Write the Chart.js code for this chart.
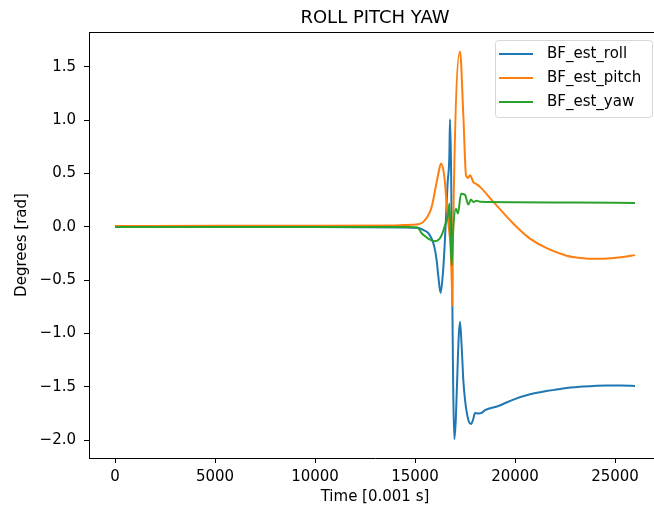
<!DOCTYPE html>
<html>
<head>
<meta charset="utf-8">
<script src="https://cdn.jsdelivr.net/npm/chart.js@4.4.0/dist/chart.umd.min.js"></script>
<style>
  html, body { margin: 0; padding: 0; background: #fff; overflow: hidden; }
  #wrap { width: 654px; height: 508px; overflow: hidden; }
</style>
</head>
<body>
<div id="wrap"><canvas id="chart" width="680" height="508"></canvas></div>
<script>
// Estimated attitude (body frame), time in ms
const rollTime = [0, 5000, 10000, 14500, 15170, 15420, 15670, 15830, 15970, 16080, 16170, 16280, 16380, 16470, 16550, 16630, 16717, 16750, 16965, 17250, 17333, 17417, 17500, 17580, 17700, 17800, 17917, 18000, 18170, 18330, 18500, 19170, 19920, 20750, 21580, 22400, 23250, 24580, 25300, 26000];
const rollValues = [0.005, 0.003, 0.0, -0.005, -0.01, -0.03, -0.06, -0.11, -0.19, -0.31, -0.47, -0.62, -0.47, -0.22, 0.09, 0.41, 0.66, 1.01, -1.99, -0.89, -1.12, -1.44, -1.62, -1.73, -1.83, -1.85, -1.80, -1.745, -1.75, -1.745, -1.72, -1.68, -1.62, -1.57, -1.54, -1.515, -1.50, -1.487, -1.488, -1.493];

const pitchTime = [0, 5000, 10000, 14000, 14800, 15170, 15420, 15750, 15870, 16000, 16170, 16300, 16420, 16500, 16580, 16670, 16780, 16850, 16867, 16900, 17250, 17420, 17550, 17650, 17750, 17920, 18080, 18250, 18920, 19920, 20750, 21580, 22580, 23300, 24000, 24800, 25400, 26000];
const pitchValues = [0.008, 0.01, 0.01, 0.012, 0.02, 0.025, 0.047, 0.14, 0.215, 0.34, 0.5, 0.594, 0.53, 0.41, 0.22, 0.03, -0.2, -0.6, -0.74, -0.12, 1.645, 1.03, 0.485, 0.46, 0.485, 0.42, 0.40, 0.375, 0.234, 0.03, -0.11, -0.20, -0.27, -0.292, -0.30, -0.295, -0.283, -0.265];

const yawTime = [0, 5000, 10000, 14500, 15130, 15330, 15500, 15750, 16000, 16200, 16370, 16500, 16670, 16720, 16780, 16833, 16900, 17050, 17150, 17300, 17500, 17667, 17800, 17917, 18080, 18300, 20000, 23000, 26000];
const yawValues = [0.0, 0.0, 0.0, 0.0, -0.005, -0.06, -0.087, -0.12, -0.134, -0.118, -0.06, 0.016, 0.125, 0.22, -0.1, -0.36, -0.05, 0.17, 0.125, 0.31, 0.30, 0.21, 0.257, 0.234, 0.244, 0.235, 0.232, 0.228, 0.225];

const seriesLabels = ['BF_est_roll', 'BF_est_pitch', 'BF_est_yaw'];
const seriesColors = ['#1f77b4', '#ff7f0e', '#2ca02c'];

const xTicks = [0, 5000, 10000, 15000, 20000, 25000];
const yTicks = [-2.0, -1.5, -1.0, -0.5, 0.0, 0.5, 1.0, 1.5];

const FONT = "'DejaVu Sans', sans-serif";

function toPoints(times, values) {
    return times.map((t, i) => ({ x: t, y: values[i] }));
}

// Title, top/right spines and the legend box
const decorations = {
    id: 'decorations',
    afterDatasetsDraw(chart) {
        const { ctx, chartArea } = chart;
        ctx.save();
        ctx.strokeStyle = '#000';
        ctx.lineWidth = 1;
        ctx.beginPath();
        ctx.moveTo(chartArea.left, chartArea.top + 0.5);
        ctx.lineTo(chartArea.right, chartArea.top + 0.5);
        ctx.moveTo(chartArea.right + 0.5, chartArea.top);
        ctx.lineTo(chartArea.right + 0.5, chartArea.bottom);
        ctx.stroke();

        // title
        ctx.fillStyle = '#000';
        ctx.font = '18px ' + FONT;
        ctx.textAlign = 'center';
        ctx.textBaseline = 'alphabetic';
        ctx.fillText('ROLL PITCH YAW', (chartArea.left + chartArea.right) / 2, 23);

        // legend
        const bx = 495.5, by = 40.5, bw = 157, bh = 77;
        ctx.fillStyle = 'rgba(255,255,255,0.8)';
        ctx.strokeStyle = '#d6d6d6';
        ctx.beginPath();
        ctx.roundRect(bx, by, bw, bh, 3);
        ctx.fill();
        ctx.stroke();
        ctx.font = '15px ' + FONT;
        ctx.textAlign = 'left';
        ctx.textBaseline = 'middle';
        chart.data.datasets.forEach((ds, i) => {
            const y = 54 + i * 24;
            ctx.strokeStyle = ds.borderColor;
            ctx.lineWidth = 2;
            ctx.beginPath();
            ctx.moveTo(499, y);
            ctx.lineTo(533, y);
            ctx.stroke();
            ctx.fillStyle = '#000';
            ctx.fillText(ds.label, 547, y);
        });
        ctx.restore();
    }
};

const ctx = document.getElementById('chart').getContext('2d');
new Chart(ctx, {
    type: 'line',
    data: {
        datasets: [
            { label: seriesLabels[0], data: toPoints(rollTime, rollValues), order: 3 },
            { label: seriesLabels[1], data: toPoints(pitchTime, pitchValues), order: 2 },
            { label: seriesLabels[2], data: toPoints(yawTime, yawValues), order: 1 }
        ].map((ds, i) => Object.assign(ds, {
            borderColor: seriesColors[i],
            backgroundColor: seriesColors[i],
            borderWidth: 2,
            pointRadius: 0,
            fill: false,
            cubicInterpolationMode: 'monotone'
        }))
    },
    options: {
        responsive: false,
        animation: false,
        layout: { padding: { top: 32, right: 19, left: 0, bottom: 0 } },
        plugins: {
            legend: { display: false },
            tooltip: { enabled: false },
            title: { display: false }
        },
        scales: {
            x: {
                type: 'linear',
                min: -1300,
                max: 27300,
                afterBuildTicks: axis => { axis.ticks = xTicks.map(v => ({ value: v })); },
                afterFit: axis => { axis.height = 50; },
                grid: { drawOnChartArea: false, drawTicks: true, tickLength: 5, tickColor: '#000' },
                border: { display: true, color: '#000', width: 1 },
                ticks: {
                    color: '#000',
                    padding: 5,
                    maxRotation: 0,
                    font: { family: FONT, size: 15 },
                    callback: v => String(v)
                },
                title: {
                    display: true,
                    text: 'Time [0.001 s]',
                    color: '#000',
                    font: { family: FONT, size: 15 },
                    padding: { top: 0, bottom: 2 }
                }
            },
            y: {
                min: -2.168,
                max: 1.828,
                afterBuildTicks: axis => { axis.ticks = yTicks.map(v => ({ value: v })); },
                afterFit: axis => { axis.width = 89; },
                grid: { drawOnChartArea: false, drawTicks: true, tickLength: 5, tickColor: '#000' },
                border: { display: true, color: '#000', width: 1 },
                ticks: {
                    color: '#000',
                    padding: 8,
                    font: { family: FONT, size: 15 },
                    callback: v => (v < 0 ? '\u2212' : '') + Math.abs(v).toFixed(1)
                },
                title: {
                    display: true,
                    text: 'Degrees [rad]',
                    color: '#000',
                    font: { family: FONT, size: 15 },
                    padding: { top: 13, bottom: 0 }
                }
            }
        }
    },
    plugins: [decorations]
});
</script>
</body>
</html>
